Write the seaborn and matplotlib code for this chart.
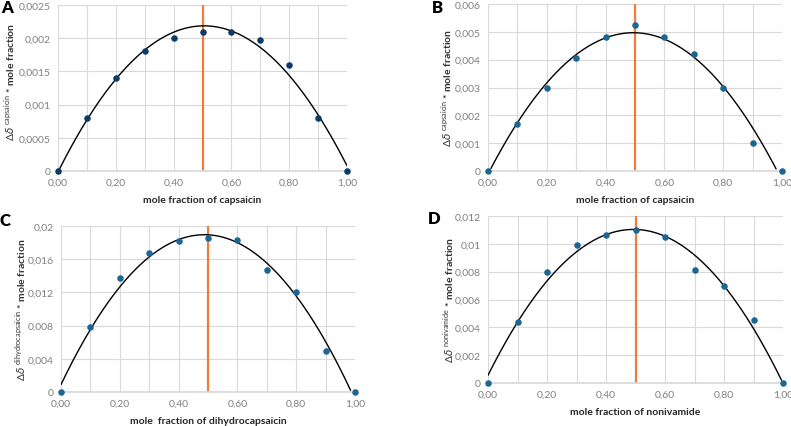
import numpy as np
import pandas as pd
import matplotlib
matplotlib.use("Agg")
import matplotlib.pyplot as plt
import seaborn as sns
from matplotlib.ticker import FuncFormatter, MultipleLocator

sns.set_theme(style="white")
plt.rcParams['font.family'] = ['Lato', 'DejaVu Sans']
plt.rcParams['mathtext.fontset'] = 'custom'
plt.rcParams['mathtext.rm'] = 'Lato'
plt.rcParams['mathtext.it'] = 'DejaVu Sans:italic'

mole_fraction = [0.0, 0.1, 0.2, 0.3, 0.4, 0.5, 0.6, 0.7, 0.8, 0.9, 1.0]
values_a = [0, 0.0008, 0.0014, 0.0018, 0.0020, 0.0021, 0.0021, 0.00197, 0.0016, 0.0008, 0]
values_b = [0, 0.0017, 0.0030, 0.00405, 0.0048, 0.00525, 0.0048, 0.0042, 0.0030, 0.0010, 0]
values_c = [0, 0.0078, 0.0137, 0.0167, 0.0182, 0.0185, 0.0183, 0.0147, 0.0120, 0.0050, 0]
values_d = [0, 0.0044, 0.0080, 0.0099, 0.0106, 0.0110, 0.0105, 0.0081, 0.0070, 0.0045, 0]

panel_letters = ["A", "B", "C", "D"]
compounds = ["capsaicin", "capsaicin", "dihydrocapsaicin", "nonivamide"]
xlabels = ["mole fraction of capsaicin", "mole fraction of capsaicin",
           "mole  fraction of dihydrocapsaicin", "mole fraction of nonivamide"]
ymax = [0.0025, 0.006, 0.02, 0.012]
ystep = [0.0005, 0.001, 0.004, 0.002]
point_colors = ["#0E3A66", "#1D6592", "#1D6592", "#1D6592"]
series = [values_a, values_b, values_c, values_d]

W, H = 791, 427
fig = plt.figure(figsize=(W / 100, H / 100), dpi=100)
boxes = [(58, 6, 347, 172), (488, 5, 782, 172), (61, 227, 355, 393), (488, 217, 783, 384)]
ylabel_x = [10, 447, 21, 449]
ylabel_y = [82, 88, 310, 300]
letter_pos = [(1, 8), (432, 8), (0, 221), (428, 219)]

def yfmt(v, pos):
    if abs(v) < 1e-12:
        return "0"
    s = f"{v:.4f}".rstrip('0').rstrip('.')
    return s.replace('.', ',')

def xfmt(v, pos):
    return f"{v:.2f}".replace('.', ',')

for i in range(4):
    x0, y0, x1, y1 = boxes[i]
    ax = fig.add_axes([x0 / W, 1 - y1 / H, (x1 - x0) / W, (y1 - y0) / H])
    df = pd.DataFrame({"x": mole_fraction, "y": series[i]})
    coef = np.polyfit(df["x"], df["y"], 2)
    xs = np.linspace(0, 1, 200)
    fit = pd.DataFrame({"x": xs, "y": np.polyval(coef, xs)})
    fit = fit[fit["y"] >= 0]
    ax.axvline(0.5, color="#F07C3A", lw=1.6, zorder=2)
    sns.lineplot(data=fit, x="x", y="y", ax=ax, color="black", lw=1.0, zorder=3)
    sns.scatterplot(data=df, x="x", y="y", ax=ax, color=point_colors[i], s=22,
                    edgecolor=point_colors[i], linewidth=0, zorder=4, clip_on=False)
    ax.set_xlim(0, 1)
    ax.set_ylim(0, ymax[i])
    ax.xaxis.set_major_locator(MultipleLocator(0.2))
    ax.yaxis.set_major_locator(MultipleLocator(ystep[i]))
    ax.xaxis.set_minor_locator(MultipleLocator(0.1))
    ax.xaxis.set_major_formatter(FuncFormatter(xfmt))
    ax.yaxis.set_major_formatter(FuncFormatter(yfmt))
    ax.grid(True, which="major", color="#D9D9D9", lw=0.8)
    ax.grid(True, which="minor", axis="x", color="#D9D9D9", lw=0.8)
    ax.set_axisbelow(True)
    for s in ["top", "right", "left"]:
        ax.spines[s].set_visible(False)
    ax.spines["bottom"].set_color("#D9D9D9")
    ax.tick_params(axis="both", which="both", length=0, labelsize=7.5, labelcolor="#808080", pad=5)
    ax.set_xlabel(xlabels[i], fontsize=7.5, fontweight="bold", color="#262626", labelpad=6)
    ax.set_ylabel("")
    fig.text(ylabel_x[i] / W, 1 - ylabel_y[i] / H,
             r"$\Delta\delta^{\ \mathrm{" + compounds[i] + r"}}$ * mole fraction",
             rotation=90, ha="center", va="center", fontsize=7.5, fontweight="bold",
             color="#333333")
    fig.text(letter_pos[i][0] / W, 1 - letter_pos[i][1] / H, panel_letters[i],
             fontsize=12, fontweight="heavy", color="black", ha="left", va="center")

fig.savefig("out.png", dpi=100, facecolor="white")
